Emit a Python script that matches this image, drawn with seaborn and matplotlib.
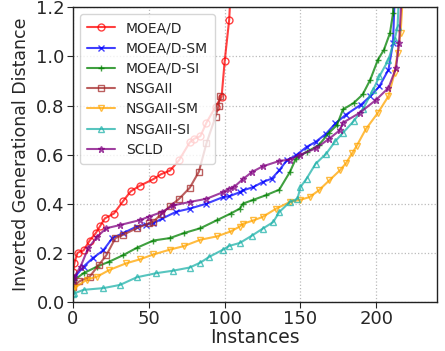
import numpy as np
import pandas as pd
import seaborn as sns
import matplotlib
matplotlib.use("Agg")
import matplotlib.pyplot as plt

# ---- data ----
names = ["MOEA/D", "MOEA/D-SM", "MOEA/D-SI", "NSGAII", "NSGAII-SM", "NSGAII-SI", "SCLD"]

moead_x = [0, 1, 3, 7, 11, 15, 18, 21, 27, 33, 38, 44, 53, 58, 64, 70, 77, 80, 84, 88, 94, 98, 100, 103, 105]
moead_y = [0.12, 0.16, 0.20, 0.21, 0.25, 0.28, 0.31, 0.34, 0.36, 0.41, 0.45, 0.473, 0.50, 0.52, 0.535, 0.578,
           0.65, 0.665, 0.675, 0.73, 0.795, 0.836, 0.98, 1.15, 1.4]

moeadsm_x = [0, 1, 7, 13, 20, 26, 33, 42, 48, 53, 59, 68, 77, 88, 99, 103, 110, 112, 119, 125, 131, 136, 141,
             147, 154, 160, 167, 173, 180, 190, 196, 202, 208, 211, 213]
moeadsm_y = [0.09, 0.10, 0.144, 0.178, 0.21, 0.26, 0.28, 0.307, 0.315, 0.32, 0.34, 0.367, 0.38, 0.40, 0.427,
             0.43, 0.447, 0.454, 0.468, 0.488, 0.502, 0.536, 0.577, 0.597, 0.631, 0.652, 0.686, 0.727, 0.763,
             0.804, 0.838, 0.878, 0.946, 1.054, 1.4]

moeadsi_x = [0, 1, 7, 16, 24, 33, 42, 53, 64, 73, 84, 95, 104, 110, 112, 119, 127, 136, 143, 147, 154, 162,
             169, 174, 178, 185, 191, 196, 201, 205, 209, 211, 212]
moeadsi_y = [0.08, 0.09, 0.117, 0.144, 0.164, 0.19, 0.22, 0.25, 0.26, 0.28, 0.30, 0.333, 0.36, 0.38, 0.40,
             0.416, 0.434, 0.457, 0.529, 0.584, 0.611, 0.638, 0.69, 0.72, 0.784, 0.81, 0.845, 0.905, 0.986,
             1.027, 1.095, 1.176, 1.4]

nsga_x = [0, 4, 11, 17, 22, 28, 33, 42, 50, 53, 58, 64, 70, 77, 83, 88, 94, 96, 97]
nsga_y = [0.06, 0.083, 0.103, 0.15, 0.19, 0.26, 0.273, 0.30, 0.32, 0.327, 0.356, 0.39, 0.42, 0.465, 0.53,
          0.646, 0.755, 0.80, 0.84]

nsgasm_x = [0, 1, 9, 16, 24, 35, 44, 53, 64, 73, 84, 95, 104, 110, 112, 119, 125, 134, 143, 150, 156, 162,
            169, 176, 180, 184, 187, 193, 201, 208, 212, 214, 216, 219]
nsgasm_y = [0.05, 0.057, 0.09, 0.103, 0.13, 0.157, 0.173, 0.193, 0.213, 0.227, 0.253, 0.267, 0.287, 0.307,
            0.318, 0.332, 0.346, 0.38, 0.407, 0.416, 0.427, 0.454, 0.495, 0.536, 0.565, 0.605, 0.635, 0.703,
            0.77, 0.838, 0.932, 1.014, 1.095, 1.4]

nsgasi_x = [0, 1, 7, 20, 31, 42, 55, 66, 77, 84, 90, 99, 103, 110, 118, 125, 132, 136, 143, 148, 150, 154,
            160, 167, 173, 178, 185, 191, 198, 202, 208, 212, 214, 216]
nsgasi_y = [0.03, 0.035, 0.049, 0.056, 0.069, 0.10, 0.117, 0.127, 0.14, 0.16, 0.184, 0.213, 0.228, 0.24,
            0.27, 0.298, 0.325, 0.366, 0.407, 0.42, 0.468, 0.502, 0.563, 0.604, 0.655, 0.689, 0.736, 0.784,
            0.865, 0.919, 0.986, 1.068, 1.12, 1.4]

scld_x = [0, 1, 5, 10, 16, 22, 31, 44, 50, 59, 66, 77, 88, 99, 103, 106, 112, 118, 125, 136, 143, 150, 160,
          169, 176, 178, 189, 200, 208, 213, 215, 218]
scld_y = [0.09, 0.103, 0.144, 0.218, 0.266, 0.30, 0.313, 0.333, 0.347, 0.367, 0.393, 0.407, 0.42, 0.447,
          0.461, 0.467, 0.50, 0.529, 0.552, 0.574, 0.58, 0.60, 0.625, 0.665, 0.70, 0.73, 0.77, 0.824, 0.872,
          0.953, 1.054, 1.4]

xticks = [0, 50, 100, 150, 200]
yticks = [0.0, 0.2, 0.4, 0.6, 0.8, 1.0, 1.2]

series = [
    ("MOEA/D", moead_x, moead_y, "red", "o"),
    ("MOEA/D-SM", moeadsm_x, moeadsm_y, "blue", "x"),
    ("MOEA/D-SI", moeadsi_x, moeadsi_y, "green", "+"),
    ("NSGAII", nsga_x, nsga_y, "brown", "s"),
    ("NSGAII-SM", nsgasm_x, nsgasm_y, "orange", "v"),
    ("NSGAII-SI", nsgasi_x, nsgasi_y, "lightseagreen", "^"),
    ("SCLD", scld_x, scld_y, "purple", "*"),
]

sns.set_style("ticks")
plt.rcParams['font.family'] = ['DejaVu Sans']

fig, ax = plt.subplots(figsize=(4.45, 3.51), dpi=100)
fig.subplots_adjust(left=0.164, right=0.982, top=0.979, bottom=0.14)

for name, xs, ys, col, mk in series:
    df = pd.DataFrame({"x": xs, "y": ys})
    sns.lineplot(data=df, x="x", y="y", ax=ax, color=col, marker=mk, label=name,
                 markerfacecolor="none", markeredgecolor=col, markeredgewidth=1.0,
                 markersize=5, linewidth=1.5, alpha=0.75, sort=True, estimator=None)

ax.set_xlim(0, 240)
ax.set_ylim(0, 1.2)
ax.set_xticks(xticks)
ax.set_yticks(yticks)
ax.set_yticklabels([f"{v:.1f}" for v in yticks])
ax.tick_params(labelsize=13, direction="out", length=4, pad=2)
ax.grid(True, linestyle=":", color="#bbbbbb", linewidth=0.9)
for sp in ax.spines.values():
    sp.set_visible(True)
    sp.set_color("#222222")
    sp.set_linewidth(1.0)
ax.set_xlabel("Instances", fontsize=13.5, labelpad=0)
ax.set_ylabel("Inverted Generational Distance", fontsize=12.5, labelpad=4)
ax.legend(loc="upper left", fontsize=10, frameon=True, handlelength=2.0, labelspacing=0.45,
          borderpad=0.5)

fig.savefig("out.png", dpi=100)
